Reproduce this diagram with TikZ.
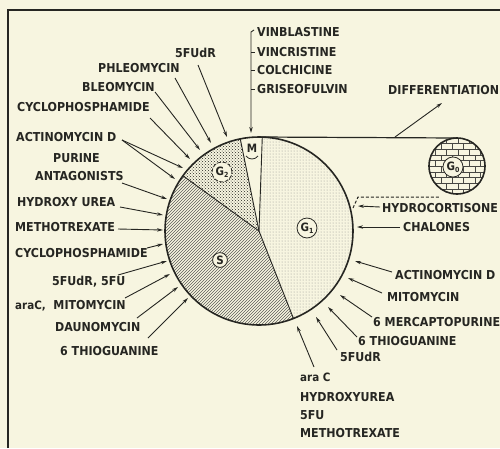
\documentclass[tikz,border=0pt]{standalone}
\usepackage{fontspec}
\setmainfont{DejaVu Sans Condensed}
\usetikzlibrary{patterns,arrows.meta}
\definecolor{paper}{RGB}{247,245,224}
\definecolor{ink}{RGB}{38,38,34}
\tikzset{
  lbl/.style={anchor=west,inner sep=0pt,font=\bfseries\fontsize{12.3}{13}\selectfont,text=ink},
  arr/.style={draw=ink,line width=0.9pt,-{Stealth[length=6pt,width=3.4pt]}},
  tag/.style={circle,draw=ink,line width=0.8pt,inner sep=1.2pt,font=\bfseries\fontsize{11.5}{12}\selectfont,text=ink},
  outline/.style={draw=ink,line width=1.6pt},
  divider/.style={draw=ink,line width=0.9pt}
}
\begin{document}
\begin{tikzpicture}[x=1pt,y=-1pt]
\fill[paper] (0,0) rectangle (500,448);
\useasboundingbox (0,0) rectangle (500,448);
% frame (top and left edges visible)
\draw[draw=ink,line width=1.2pt] (8,448) -- (8,10) -- (500,10);

% ---- pie ----
\coordinate (C) at (259,231);
\fill[pattern=dots,pattern color=ink!50] (C) -- ++(88:94pt) arc[start angle=88,end angle=-68.5,radius=94pt] -- cycle;
\fill[pattern=north east lines,pattern color=ink!75] (C) -- ++(144:94pt) arc[start angle=144,end angle=291.5,radius=94pt] -- cycle;
\fill[pattern=crosshatch dots,pattern color=ink] (C) -- ++(101.5:94pt) arc[start angle=101.5,end angle=144,radius=94pt] -- cycle;
\draw[divider] (C) -- ++(88:94pt);
\draw[divider] (C) -- ++(101.5:94pt);
\draw[divider] (C) -- ++(144:94pt);
\draw[divider] (C) -- ++(-68.5:94pt);
\draw[outline] (C) circle[radius=94pt];

\node[tag,fill=paper,dashed,dash pattern=on 4pt off 1.5pt] (G2) at (222,172) {G\raisebox{-2pt}{\fontsize{7}{7}\selectfont 2}};
\node[inner sep=0pt,font=\bfseries\fontsize{11.5}{12}\selectfont,text=ink] (M) at (252,148) {M};
\draw[ink,line width=0.8pt] (246,156) .. controls (249,160) and (255,160) .. (258,156);
\node[tag,fill=paper] (G1) at (307,228) {G\raisebox{-2pt}{\fontsize{7}{7}\selectfont 1}};
\node[tag,fill=paper] (S) at (220,260) {S};

% ---- G0 ----
\coordinate (D) at (457,166);
\fill[pattern=bricks,pattern color=ink!85] (D) circle[radius=28pt];
\draw[outline] (D) circle[radius=28pt];
\node[tag,fill=paper] (G0) at (453,167) {G\raisebox{-2pt}{\fontsize{7}{7}\selectfont 0}};
\draw[draw=ink,line width=1.2pt] (259,137) -- (457,138);
\draw[draw=ink,line width=1pt,dashed,dash pattern=on 3pt off 2pt] (353,208) -- (358,197) -- (440,197);

% ---- left labels ----
\node[lbl] (l1) at (175,53) {5FUdR};
\node[lbl] (l2) at (98,68) {PHLEOMYCIN};
\node[lbl] (l3) at (82,87) {BLEOMYCIN};
\node[lbl] (l4) at (17,107) {CYCLOPHOSPHAMIDE};
\node[lbl] (l5) at (16,137) {ACTINOMYCIN D};
\node[lbl] (l6) at (53,158) {PURINE};
\node[lbl] (l7) at (35,176) {ANTAGONISTS};
\node[lbl] (l8) at (17,202) {HYDROXY UREA};
\node[lbl] (l9) at (15,227) {METHOTREXATE};
\node[lbl] (l10) at (15,253) {CYCLOPHOSPHAMIDE};
\node[lbl] (l11) at (52,282) {5FUdR, 5FU};
\node[lbl] (l12) at (15,306) {{\fontsize{11.5}{12}\selectfont araC,}\ \ MITOMYCIN};
\node[lbl] (l13) at (55,327) {DAUNOMYCIN};
\node[lbl] (l14) at (60,351) {6 THIOGUANINE};

\coordinate (a1s) at (198,65);  \coordinate (a1e) at (227,137);
\coordinate (a2s) at (175,78);  \coordinate (a2e) at (211,143);
\coordinate (a3s) at (155,92);  \coordinate (a3e) at (200,150);
\coordinate (a4s) at (150,118); \coordinate (a4e) at (190,159);
\coordinate (a5s) at (122,140); \coordinate (a5e) at (183,168);
\coordinate (a6e) at (175,179);
\coordinate (a7s) at (122,183); \coordinate (a7e) at (167,199);
\coordinate (a8s) at (120,207); \coordinate (a8e) at (163,215);
\coordinate (a9s) at (118,229); \coordinate (a9e) at (163,230);
\coordinate (a10s) at (147,248); \coordinate (a10e) at (163,244);
\coordinate (a11s) at (118,275); \coordinate (a11e) at (167,261);
\coordinate (a12s) at (125,298); \coordinate (a12e) at (170,274);
\coordinate (a13s) at (137,318); \coordinate (a13e) at (178,287);
\coordinate (a14s) at (148,338); \coordinate (a14e) at (188,298);
\foreach \s/\e in {a1s/a1e,a2s/a2e,a3s/a3e,a4s/a4e,a5s/a5e,a5s/a6e,a7s/a7e,a8s/a8e,a9s/a9e,a10s/a10e,a11s/a11e,a12s/a12e,a13s/a13e,a14s/a14e}
  \draw[arr] (\s) -- (\e);

% ---- top bracket ----
\node[lbl] (v1) at (257,32) {VINBLASTINE};
\node[lbl] (v2) at (257,52) {VINCRISTINE};
\node[lbl] (v3) at (257,70) {COLCHICINE};
\node[lbl] (v4) at (257,89) {GRISEOFULVIN};
\coordinate (bt) at (251,32); \coordinate (bb) at (251,133);
\draw[arr] (254,30) -- (bt) -- (bb);
\foreach \yy in {52,70,89} \draw[draw=ink,line width=0.9pt] (251,\yy) -- (255,\yy);

% ---- right labels ----
\node[lbl] (r1) at (388,90) {DIFFERENTIATION};
\node[lbl] (r2) at (382,208) {HYDROCORTISONE};
\node[lbl] (r3) at (403,227) {CHALONES};
\node[lbl] (r4) at (395,275) {ACTINOMYCIN D};
\node[lbl] (r5) at (387,297) {MITOMYCIN};
\node[lbl] (r6) at (373,322) {6 MERCAPTOPURINE};
\node[lbl] (r7) at (358,341) {6 THIOGUANINE};
\node[lbl] (r8) at (340,357) {5FUdR};
\node[lbl] (r9) at (300,377) {{\fontsize{11.5}{12}\selectfont ara C}};
\node[lbl] (r10) at (300,397) {HYDROXYUREA};
\node[lbl] (r11) at (300,415) {5FU};
\node[lbl] (r12) at (300,433) {METHOTREXATE};

\coordinate (b1s) at (395,137); \coordinate (b1e) at (442,103);
\coordinate (b2s) at (380,207); \coordinate (b2e) at (358,206);
\coordinate (b3s) at (400,227); \coordinate (b3e) at (357,227);
\coordinate (b4s) at (392,272); \coordinate (b4e) at (355,261);
\coordinate (b5s) at (382,293); \coordinate (b5e) at (348,278);
\coordinate (b6s) at (372,317); \coordinate (b6e) at (340,295);
\coordinate (b7s) at (357,337); \coordinate (b7e) at (328,307);
\coordinate (b8s) at (337,350); \coordinate (b8e) at (316,317);
\coordinate (b9s) at (314,367); \coordinate (b9e) at (297,326);
\foreach \s/\e in {b1s/b1e,b2s/b2e,b3s/b3e,b4s/b4e,b5s/b5e,b6s/b6e,b7s/b7e,b8s/b8e,b9s/b9e}
  \draw[arr] (\s) -- (\e);
\end{tikzpicture}
\end{document}
